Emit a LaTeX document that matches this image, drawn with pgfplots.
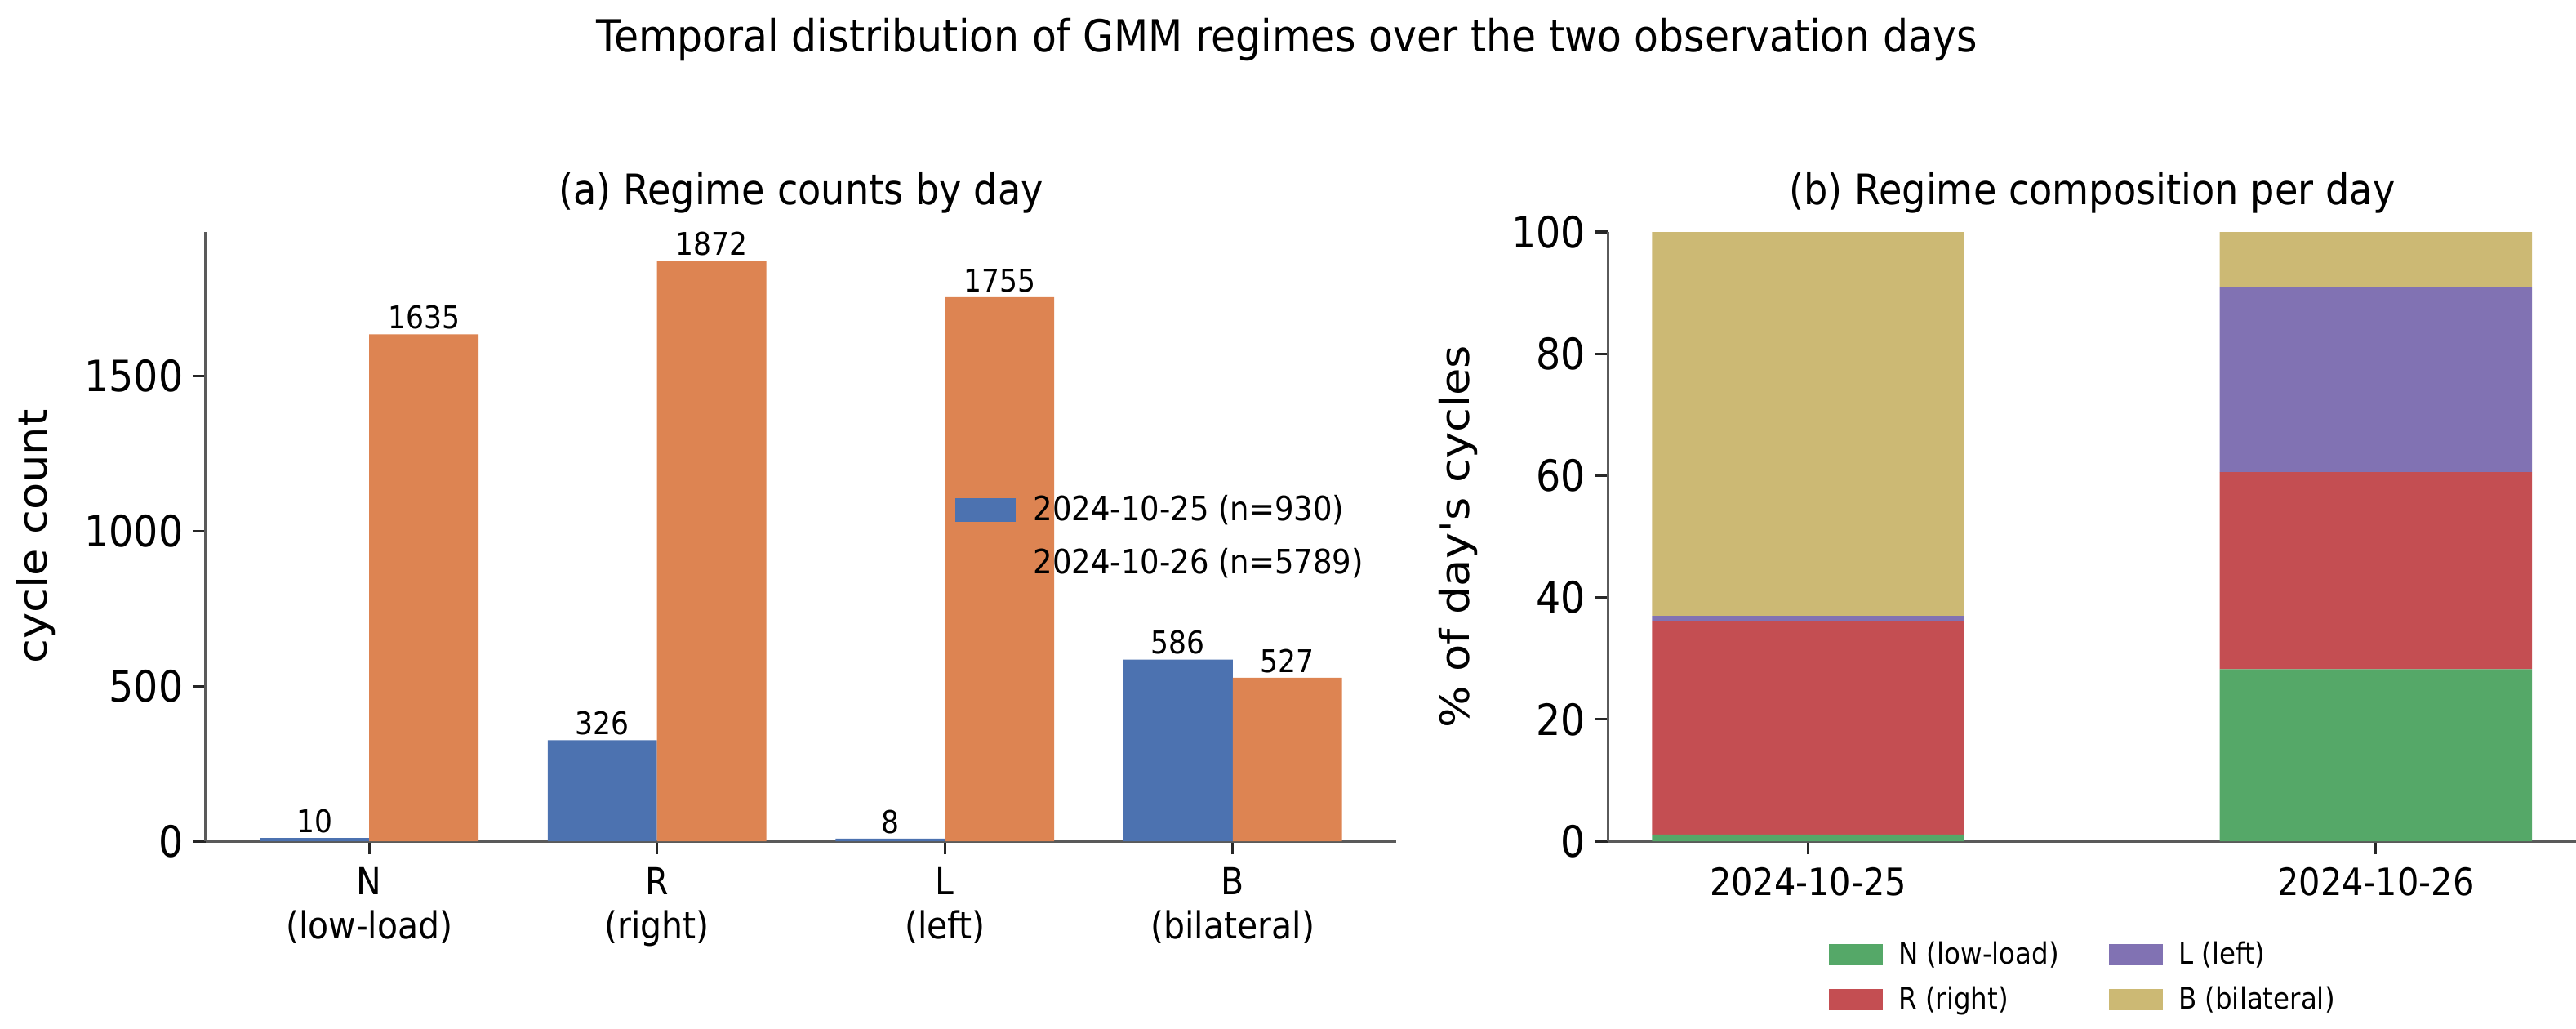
\documentclass[border=0pt]{standalone}
\usepackage{fontspec}
\usepackage{graphicx}
\setmainfont{DejaVu Sans}[FakeStretch=0.9, Ligatures=TeXOff]
\newfontfamily\labelfont{DejaVu Sans}[Ligatures=TeXOff]
\usepackage{pgfplots}
\pgfplotsset{compat=1.18}

% seaborn "deep" palette
\definecolor{cBlue}{HTML}{4C72B0}
\definecolor{cOrange}{HTML}{DD8452}
\definecolor{cGreen}{HTML}{55A868}
\definecolor{cRed}{HTML}{C44E52}
\definecolor{cPurple}{HTML}{8172B3}
\definecolor{cKhaki}{HTML}{CCB974}
\definecolor{spine}{HTML}{5A5A5A}

\pgfplotsset{
  panel/.style={
    scale only axis,
    anchor=south west,
    axis lines=left,
    axis line style={-, draw=spine, line width=1.1pt},
    tick align=outside,
    major tick length=5.8pt,
    major tick style={draw=black!85, line width=1.1pt},
    /pgf/number format/assume math mode=true,
    /pgf/number format/1000 sep={},
    ymin=0,
    clip=false,
    yticklabel style={font=\fontsize{19}{22}\selectfont, xshift=-0.6pt},
    title style={font=\fontsize{18.5}{22}\selectfont, anchor=center, yshift=11pt},
  },
  bigbox/.style={legend image code/.code={\fill[##1] (0pt,-5.2pt) rectangle (26.6pt,5.2pt);}},
  smallbox/.style={legend image code/.code={\fill[##1] (0pt,-4.6pt) rectangle (23.6pt,4.6pt);}},
}

\begin{document}
\begin{tikzpicture}
\path[use as bounding box] (0,0) rectangle (1135.8pt,453.24pt);

\node[font=\fontsize{19.55}{23}\selectfont] at (567.4pt,435.6pt)
  {Temporal distribution of GMM regimes over the two observation days};

% (a) counts of each regime on each day
\begin{axis}[panel,
  at={(90.72pt,82.44pt)},
  width=524.88pt, height=268.56pt,
  xmin=-0.568, xmax=3.568, ymax=1965.6,
  ybar, bar width=0.38,
  xtick={0,1,2,3},
  xticklabels={{N\\(low-load)},{R\\(right)},{L\\(left)},{B\\(bilateral)}},
  xticklabel style={align=center, font=\fontsize{16.4}{19.4}\selectfont, yshift=-2.2pt},
  ytick={0,500,1000,1500},
  title={(a) Regime counts by day},
  nodes near coords,
  nodes near coords style={font=\fontsize{13.8}{16}\selectfont, text=black, inner sep=2pt},
  legend cell align=left,
  legend style={at={(rel axis cs:0.629,0.576)}, anchor=north west, draw=none, fill=none,
    inner sep=0pt, font=\fontsize{14.8}{18}\selectfont, row sep=6.8pt,
    /tikz/every odd column/.append style={column sep=6pt}},
]
\addplot[fill=cBlue, draw=none, bar shift=-0.19, bigbox] coordinates {(0,10) (1,326) (2,8) (3,586)};
\addplot[fill=cOrange, draw=none, bar shift=0.19, bigbox] coordinates {(0,1635) (1,1872) (2,1755) (3,527)};
\legend{2024-10-25 (n=930), 2024-10-26 (n=5789)}
\end{axis}
\node[rotate=90] at (15.8pt,216.7pt)
  {\labelfont\fontsize{19.6}{22}\selectfont\scalebox{1}[0.9]{cycle count}};

% (b) share of each regime within a day, percent
\begin{axis}[panel,
  at={(709.02pt,82.44pt)},
  width=426.78pt, height=268.56pt,
  xmin=-0.3525, xmax=1.3525, ymax=100,
  ybar stacked, bar width=0.55,
  xtick={0,1},
  xticklabels={2024-10-25,2024-10-26},
  xticklabel style={font=\fontsize{16.6}{20}\selectfont, yshift=-2.2pt},
  ytick={0,20,40,60,80,100},
  title={(b) Regime composition per day},
  legend columns=2, transpose legend,
  legend cell align=left,
  legend style={at={(rel axis cs:0.492,-0.157)}, anchor=north, draw=none, fill=none,
    inner sep=0pt, font=\fontsize{13}{16}\selectfont, row sep=4.5pt,
    /tikz/every odd column/.append style={column sep=5pt},
    /tikz/every even column/.append style={column sep=20pt}},
]
\addplot[fill=cGreen, draw=none, smallbox] coordinates {(0,1.075) (1,28.243)};
\addplot[fill=cRed, draw=none, smallbox] coordinates {(0,35.054) (1,32.337)};
\addplot[fill=cPurple, draw=none, smallbox] coordinates {(0,0.860) (1,30.316)};
\addplot[fill=cKhaki, draw=none, smallbox] coordinates {(0,63.011) (1,9.104)};
\legend{N (low-load), R (right), L (left), B (bilateral)}
\end{axis}
\node[rotate=90] at (643pt,216.7pt)
  {\labelfont\fontsize{19.6}{22}\selectfont\scalebox{1}[0.9]{\% of day's cycles}};
\end{tikzpicture}
\end{document}
